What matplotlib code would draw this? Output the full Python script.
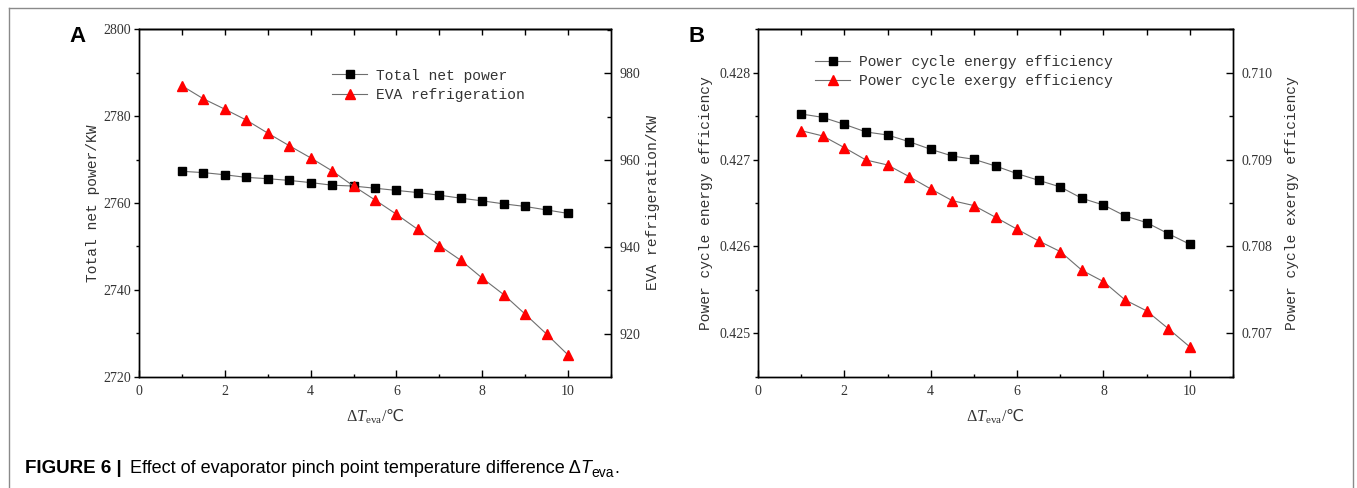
import matplotlib
matplotlib.use('Agg')
import matplotlib.pyplot as plt
from matplotlib.ticker import MultipleLocator, FixedLocator
from matplotlib.lines import Line2D

# ---------------- data ----------------
x_vals = [1.0, 1.5, 2.0, 2.5, 3.0, 3.5, 4.0, 4.5, 5.0, 5.5,
          6.0, 6.5, 7.0, 7.5, 8.0, 8.5, 9.0, 9.5, 10.0]
net_power = [2767.3, 2767.0, 2766.5, 2765.9, 2765.6, 2765.2, 2764.7, 2764.1, 2763.9, 2763.4,
             2762.9, 2762.4, 2761.8, 2761.1, 2760.5, 2759.8, 2759.2, 2758.4, 2757.6]
eva_refrig = [977.1, 974.1, 971.7, 969.2, 966.2, 963.3, 960.5, 957.5, 954.0, 950.8,
              947.5, 944.0, 940.3, 936.9, 932.8, 929.0, 924.5, 919.9, 915.1]
energy_eff = [0.427525, 0.427486, 0.427406, 0.427318, 0.427283, 0.427206, 0.427118, 0.427041,
              0.427003, 0.426926, 0.426838, 0.426761, 0.426685, 0.426554, 0.426477, 0.426351,
              0.426274, 0.426147, 0.426025]
exergy_eff = [0.709333, 0.709272, 0.709137, 0.708995, 0.708938, 0.708804, 0.708662, 0.708527,
              0.708470, 0.708336, 0.708198, 0.708063, 0.707941, 0.707726, 0.707595, 0.707384,
              0.707258, 0.707054, 0.706843]

x_ticks = [0, 2, 4, 6, 8, 10]
a_left_ticks = [2720, 2740, 2760, 2780, 2800]
a_right_ticks = [920, 940, 960, 980]
b_left_ticks = [0.425, 0.426, 0.427, 0.428]
b_right_ticks = [0.707, 0.708, 0.709, 0.710]

a_left_label = 'Total net power/KW'
a_right_label = 'EVA refrigeration/KW'
b_left_label = 'Power cycle energy efficiency'
b_right_label = 'Power cycle exergy efficiency'
a_legend = ['Total net power', 'EVA refrigeration']
b_legend = ['Power cycle energy efficiency', 'Power cycle exergy efficiency']

# ---------------- style ----------------
W, H = 1357, 488
plt.rcParams['mathtext.fontset'] = 'custom'
plt.rcParams['mathtext.rm'] = 'Liberation Serif'
plt.rcParams['mathtext.it'] = 'Liberation Serif:italic'
plt.rcParams['mathtext.bf'] = 'Liberation Serif:bold'
plt.rcParams['mathtext.sf'] = 'DejaVu Sans'
plt.rcParams['axes.linewidth'] = 1.0

TICK_FONT = dict(family='Liberation Serif', size=10)
LABEL_FONT = dict(family='Liberation Mono', size=10.5)
TXT = '#333333'
LINE_C = '#6e6e6e'

fig = plt.figure(figsize=(W / 100, H / 100), dpi=100)


def px_axes(l, r, t, b):
    return fig.add_axes([l / W, 1 - b / H, (r - l) / W, (b - t) / H])


def style_axes(ax, ax2, ylim_l, ylim_r, lt, rt, lminor, rminor, fmt_l, fmt_r):
    ax.set_xlim(0, 11)
    ax.set_ylim(*ylim_l)
    ax2.set_ylim(*ylim_r)
    ax.xaxis.set_major_locator(FixedLocator(x_ticks))
    ax.xaxis.set_minor_locator(MultipleLocator(1))
    ax.yaxis.set_major_locator(FixedLocator(lt))
    ax.yaxis.set_minor_locator(MultipleLocator(lminor))
    ax2.yaxis.set_major_locator(FixedLocator(rt))
    ax2.yaxis.set_minor_locator(MultipleLocator(rminor))
    ax.set_xticklabels([str(v) for v in x_ticks], **TICK_FONT, color=TXT)
    ax.set_yticklabels([fmt_l.format(v) for v in lt], **TICK_FONT, color=TXT)
    ax2.set_yticklabels([fmt_r.format(v) for v in rt], **TICK_FONT, color=TXT)
    ax.tick_params(axis='x', which='major', direction='in', length=5, width=1.0, pad=6)
    ax.tick_params(axis='x', which='minor', direction='in', length=2.5, width=1.0)
    ax.tick_params(axis='y', which='major', direction='out', length=3.5, width=1.0, pad=2)
    ax.tick_params(axis='y', which='minor', direction='out', length=2.5, width=1.0)
    ax2.tick_params(axis='y', which='major', direction='in', length=5, width=1.0, pad=6)
    ax2.tick_params(axis='y', which='minor', direction='in', length=3, width=1.0)
    sec = ax.secondary_xaxis('top')
    sec.xaxis.set_major_locator(FixedLocator(list(range(1, 11))))
    sec.tick_params(axis='x', direction='in', length=4, width=1.0, labeltop=False)
    sec.set_xticklabels([])
    ax.set_xlabel(r'$\mathit{\Delta T}_{\mathrm{eva}}$/$\mathsf{℃}$',
                  family='Liberation Serif', size=11.5, color=TXT)


# ---------------- panel A ----------------
axA = px_axes(139, 611, 29.3, 376.7)
axA2 = axA.twinx()
lA1, = axA.plot(x_vals, net_power, color=LINE_C, lw=0.8, marker='s', ms=5.5,
                mfc='black', mec='black', label=a_legend[0], zorder=3)
lA2, = axA2.plot(x_vals, eva_refrig, color=LINE_C, lw=0.8, marker='^', ms=7,
                 mfc='red', mec='red', label=a_legend[1], zorder=3)
style_axes(axA, axA2, (2720, 2800), (910.1, 990.1), a_left_ticks, a_right_ticks, 10, 10,
           '{:.0f}', '{:.0f}')
axA.set_ylabel(a_left_label, **LABEL_FONT, color=TXT)
axA.yaxis.set_label_coords(-0.083, 0.5)
axA2.set_ylabel(a_right_label, **LABEL_FONT, color=TXT)
axA2.yaxis.set_label_coords(1.074, 0.5)
axA.xaxis.set_label_coords(0.5, -0.088)
legA = axA.legend([lA1, lA2], a_legend, loc='upper left', bbox_to_anchor=(0.409, 0.887),
                  frameon=False, prop=dict(family='Liberation Mono', size=10.5),
                  handlelength=2.4, handletextpad=0.6, labelspacing=0.4,
                  borderpad=0, borderaxespad=0)
for t in legA.get_texts():
    t.set_color(TXT)

# ---------------- panel B ----------------
axB = px_axes(758, 1233, 29.3, 376.7)
axB2 = axB.twinx()
lB1, = axB.plot(x_vals, energy_eff, color=LINE_C, lw=0.8, marker='s', ms=5.5,
                mfc='black', mec='black', label=b_legend[0], zorder=3)
lB2, = axB2.plot(x_vals, exergy_eff, color=LINE_C, lw=0.8, marker='^', ms=7,
                 mfc='red', mec='red', label=b_legend[1], zorder=3)
style_axes(axB, axB2, (0.4245, 0.4285), (0.7065, 0.7105), b_left_ticks, b_right_ticks,
           0.0005, 0.0005, '{:.3f}', '{:.3f}')
axB.set_ylabel(b_left_label, **LABEL_FONT, color=TXT)
axB.yaxis.set_label_coords(-0.095, 0.5)
axB2.set_ylabel(b_right_label, **LABEL_FONT, color=TXT)
axB2.yaxis.set_label_coords(1.109, 0.5)
axB.xaxis.set_label_coords(0.5, -0.088)
legB = axB.legend([lB1, lB2], b_legend, loc='upper left', bbox_to_anchor=(0.12, 0.927),
                  frameon=False, prop=dict(family='Liberation Mono', size=10.5),
                  handlelength=2.4, handletextpad=0.6, labelspacing=0.4,
                  borderpad=0, borderaxespad=0)
for t in legB.get_texts():
    t.set_color(TXT)

# ---------------- panel letters ----------------
fig.text(77 / W, 1 - 37 / H, 'A', family='Liberation Sans', weight='bold', size=16,
         ha='center', va='center')
fig.text(697 / W, 1 - 37 / H, 'B', family='Liberation Sans', weight='bold', size=16,
         ha='center', va='center')

# ---------------- frame ----------------
BORDER = '#8a8a8a'
fig.add_artist(Line2D([9 / W, 9 / W], [0, 1 - 8 / H], transform=fig.transFigure, color=BORDER, lw=1.0))
fig.add_artist(Line2D([1353 / W, 1353 / W], [0, 1 - 8 / H], transform=fig.transFigure, color=BORDER, lw=1.0))
fig.add_artist(Line2D([9 / W, 1353 / W], [1 - 8 / H, 1 - 8 / H], transform=fig.transFigure, color=BORDER, lw=1.0))

# ---------------- caption ----------------
renderer = fig.canvas.get_renderer()
base_y = 1 - 473 / H
CAP = dict(family='Liberation Sans', size=13)
t1 = fig.text(25 / W, base_y, 'FIGURE 6 |', weight='bold', va='baseline',
              family='Liberation Sans', size=13.5)
t2 = fig.text(130 / W, base_y, 'Effect of evaporator pinch point temperature difference \u0394',
              va='baseline', **CAP)
bb = t2.get_window_extent(renderer)
t3 = fig.text(bb.x1 / W, base_y, 'T', style='italic', va='baseline', **CAP)
bb = t3.get_window_extent(renderer)
t4 = fig.text(bb.x1 / W, base_y - 4 / H, 'eva', va='baseline', family='Liberation Sans', size=10)
bb = t4.get_window_extent(renderer)
fig.text(bb.x1 / W, base_y, '.', va='baseline', **CAP)

fig.savefig('out.png', dpi=100)
